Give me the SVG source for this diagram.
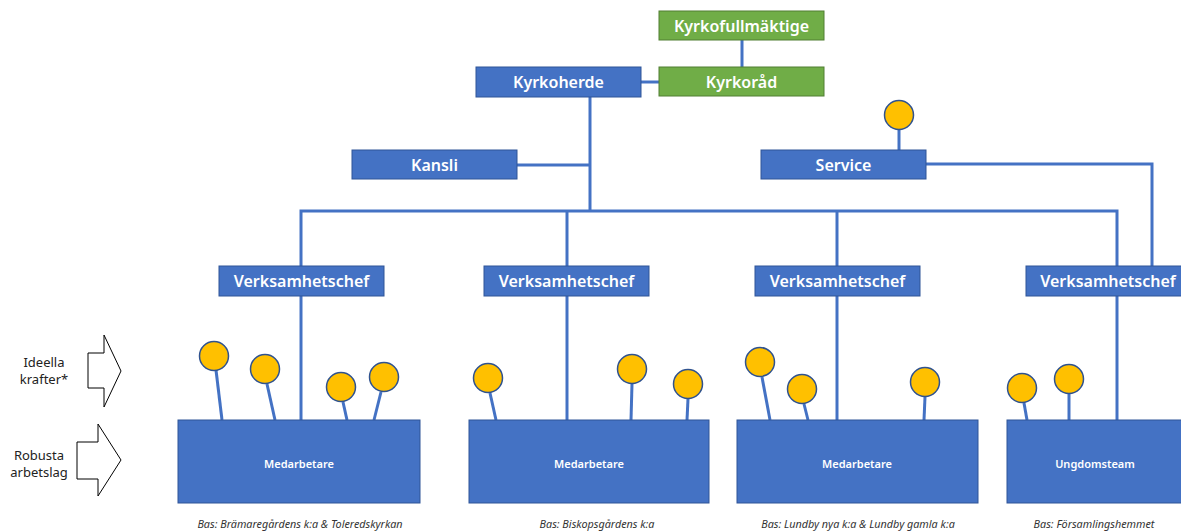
<svg xmlns="http://www.w3.org/2000/svg" width="1181" height="531" viewBox="0 0 1181 531">
<style>
.blue{fill:#4472C4;stroke:#2F5597;stroke-width:1}
.green{fill:#70AD47;stroke:#507E32;stroke-width:1}
.hdr{font-family:"Noto Sans",sans-serif;font-size:16px;font-weight:600;fill:#fff;text-anchor:middle;dominant-baseline:central}
.sm{font-family:"Noto Sans",sans-serif;font-size:11px;font-weight:600;fill:#fff;text-anchor:middle;dominant-baseline:central}
.cap{font-family:"Noto Sans",sans-serif;font-size:10.8px;font-style:italic;fill:#333;text-anchor:middle}
.lbl{font-family:"Noto Sans",sans-serif;font-size:13px;fill:#222;text-anchor:middle}
.ln{stroke:#4472C4;stroke-width:3;fill:none}
.dot{fill:#FFC000;stroke:#2F528F;stroke-width:1.5}
.arr{fill:#fff;stroke:#000;stroke-width:1}
</style>
<rect width="1181" height="531" fill="#fff"/>
<g id="connectors">
<line class="ln" x1="742" y1="40" x2="742" y2="67"/>
<line class="ln" x1="641" y1="82" x2="659" y2="82"/>
<line class="ln" x1="590" y1="97" x2="590" y2="211"/>
<line class="ln" x1="517" y1="165" x2="590" y2="165"/>
<polyline class="ln" points="301,266 301,211 1117,211 1117,266"/>
<line class="ln" x1="567" y1="211" x2="567" y2="266"/>
<line class="ln" x1="837" y1="211" x2="837" y2="266"/>
<polyline class="ln" points="926,164 1152,164 1152,266"/>
<line class="ln" x1="899" y1="129" x2="899" y2="150"/>
<line class="ln" x1="301" y1="296" x2="301" y2="420"/>
<line class="ln" x1="567" y1="296" x2="567" y2="420"/>
<line class="ln" x1="837" y1="296" x2="837" y2="420"/>
<line class="ln" x1="1117" y1="296" x2="1117" y2="420"/>
<line class="ln" x1="216" y1="370" x2="222" y2="420"/>
<line class="ln" x1="267" y1="384" x2="275" y2="420"/>
<line class="ln" x1="343" y1="402" x2="347" y2="420"/>
<line class="ln" x1="381" y1="392" x2="374" y2="420"/>
<line class="ln" x1="490" y1="393" x2="496" y2="420"/>
<line class="ln" x1="632" y1="384" x2="631" y2="420"/>
<line class="ln" x1="688" y1="399" x2="687" y2="420"/>
<line class="ln" x1="762" y1="377" x2="770" y2="420"/>
<line class="ln" x1="804" y1="404" x2="808" y2="420"/>
<line class="ln" x1="925" y1="397" x2="924" y2="420"/>
<line class="ln" x1="1024" y1="403" x2="1027" y2="420"/>
<line class="ln" x1="1069" y1="394" x2="1069" y2="420"/>
</g>
<g id="kyrkofullmaktige"><rect class="green" x="659" y="11" width="165" height="29"/><text class="hdr" x="741.5" y="25.5">Kyrkofullmäktige</text></g>
<g id="kyrkorad"><rect class="green" x="659" y="67" width="165" height="29"/><text class="hdr" x="741.5" y="81.5">Kyrkoråd</text></g>
<g id="kyrkoherde"><rect class="blue" x="476" y="67" width="165" height="30"/><text class="hdr" x="558.5" y="82">Kyrkoherde</text></g>
<g id="kansli"><rect class="blue" x="352" y="150" width="165" height="29"/><text class="hdr" x="434.5" y="164.5">Kansli</text></g>
<g id="service"><rect class="blue" x="761" y="150" width="165" height="29"/><text class="hdr" x="843.5" y="164.5">Service</text><circle class="dot" cx="899" cy="115" r="14.5"/></g>
<g id="vc1"><rect class="blue" x="219" y="266" width="165" height="30"/><text class="hdr" x="301.5" y="281">Verksamhetschef</text></g>
<g id="vc2"><rect class="blue" x="484" y="266" width="165" height="30"/><text class="hdr" x="566.5" y="281">Verksamhetschef</text></g>
<g id="vc3"><rect class="blue" x="755" y="266" width="165" height="30"/><text class="hdr" x="837.5" y="281">Verksamhetschef</text></g>
<g id="vc4"><rect class="blue" x="1026" y="266" width="165" height="30"/><text class="hdr" x="1108" y="281">Verksamhetschef</text></g>
<g id="team1"><rect class="blue" x="178" y="420" width="242" height="83"/><text class="sm" x="299" y="463">Medarbetare</text>
<circle class="dot" cx="214" cy="356" r="14.5"/><circle class="dot" cx="265" cy="369" r="14.5"/><circle class="dot" cx="341" cy="387" r="14.5"/><circle class="dot" cx="384" cy="377" r="14.5"/>
<text class="cap" x="300" y="528">Bas: Brämaregårdens k:a &amp; Toleredskyrkan</text></g>
<g id="team2"><rect class="blue" x="469" y="420" width="240" height="83"/><text class="sm" x="589" y="463">Medarbetare</text>
<circle class="dot" cx="488" cy="378" r="14.5"/><circle class="dot" cx="632" cy="369" r="14.5"/><circle class="dot" cx="688" cy="384" r="14.5"/>
<text class="cap" x="597" y="528">Bas: Biskopsgårdens k:a</text></g>
<g id="team3"><rect class="blue" x="737" y="420" width="241" height="83"/><text class="sm" x="857" y="463">Medarbetare</text>
<circle class="dot" cx="760" cy="362" r="14.5"/><circle class="dot" cx="802" cy="389" r="14.5"/><circle class="dot" cx="925" cy="382" r="14.5"/>
<text class="cap" x="858" y="528">Bas: Lundby nya k:a &amp; Lundby gamla k:a</text></g>
<g id="team4"><rect class="blue" x="1007" y="420" width="180" height="83"/><text class="sm" x="1095" y="463">Ungdomsteam</text>
<circle class="dot" cx="1022" cy="388" r="14.5"/><circle class="dot" cx="1069" cy="379" r="14.5"/>
<text class="cap" x="1094" y="528">Bas: Församlingshemmet</text></g>
<g id="ideella"><polygon class="arr" points="88,353 104,353 104,335 121,371 104,407 104,388 88,388"/><text class="lbl" x="44" y="367">Ideella</text><text class="lbl" x="44" y="384">krafter*</text></g>
<g id="robusta"><polygon class="arr" points="77,442 98,442 98,424 121,460 98,496 98,479 77,479"/><text class="lbl" x="39" y="460">Robusta</text><text class="lbl" x="39" y="477">arbetslag</text></g>
</svg>
